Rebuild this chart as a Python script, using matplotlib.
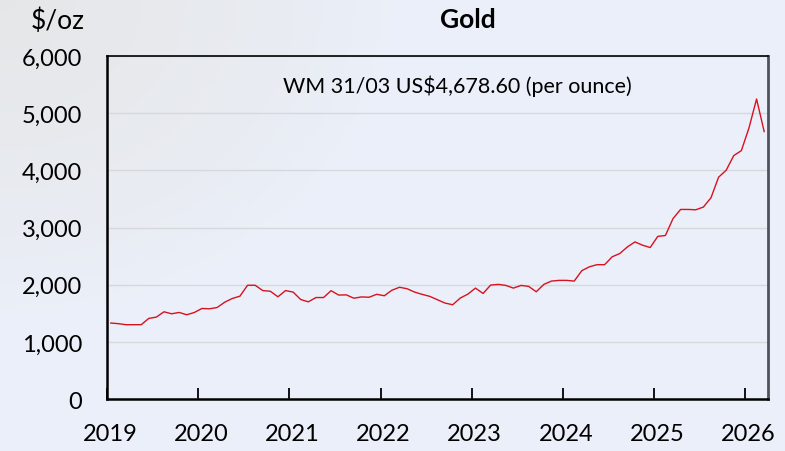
"""Gold price, month-end, US$ per ounce."""

import matplotlib
matplotlib.use("Agg")
import matplotlib.pyplot as plt
import matplotlib.transforms as mtransforms
import numpy as np
from matplotlib.ticker import FuncFormatter

FONT = ["Lato", "DejaVu Sans"]
plt.rcParams["font.family"] = FONT

YEARS = [2019, 2020, 2021, 2022, 2023, 2024, 2025, 2026]

# month-end prices, Jan 2019 .. Mar 2026
PRICE_2019 = [1329, 1318, 1300, 1300, 1300, 1410, 1433, 1526, 1491, 1514, 1474, 1514]
PRICE_2020 = [1584, 1578, 1601, 1694, 1759, 1799, 1990, 1990, 1897, 1885, 1788, 1897]
PRICE_2021 = [1870, 1740, 1700, 1775, 1775, 1895, 1818, 1822, 1763, 1786, 1780, 1832]
PRICE_2022 = [1806, 1903, 1955, 1929, 1870, 1830, 1795, 1736, 1678, 1649, 1766, 1835]
PRICE_2023 = [1940, 1847, 1993, 2005, 1987, 1940, 1987, 1970, 1876, 2005, 2063, 2075]
PRICE_2024 = [2075, 2063, 2245, 2313, 2350, 2350, 2488, 2545, 2661, 2748, 2690, 2650]
PRICE_2025 = [2845, 2860, 3155, 3316, 3316, 3310, 3358, 3520, 3880, 4002, 4258, 4345]
PRICE_2026 = [4741, 5248, 4678.6]

Y_TICKS = [0, 1000, 2000, 3000, 4000, 5000, 6000]
NOTE = "WM 31/03 US$4,678.60 (per ounce)"

prices = (PRICE_2019 + PRICE_2020 + PRICE_2021 + PRICE_2022
          + PRICE_2023 + PRICE_2024 + PRICE_2025 + PRICE_2026)
# each month sits in the middle of its slot
t = YEARS[0] + (np.arange(len(prices)) + 0.5) / 12

fig = plt.figure(figsize=(7.85, 4.52), dpi=100)

# pale backdrop: grey upper-left fading into light blue
bg = fig.add_axes([0, 0, 1, 1], zorder=-10)
gx, gy = np.meshgrid(np.linspace(0, 1, 200), np.linspace(0, 1, 120))
w = np.clip(1 - np.hypot(gx / 0.5, gy / 0.7), 0, 1)[..., None] ** 0.7
grey = np.array([0.900, 0.905, 0.910])
blue = np.array([0.922, 0.940, 0.978])
bg.imshow(w * grey + (1 - w) * blue, aspect="auto", extent=[0, 1, 1, 0])
bg.set_axis_off()

ax = fig.add_axes([0.1363, 0.115, 0.9783 - 0.1363, 0.8739 - 0.115])
ax.patch.set_alpha(0)

ax.plot(t, prices, color="#D7121E", lw=1.0, zorder=3)

ax.set_xlim(2019, 2026.25)
ax.set_ylim(0, 6000)
ax.set_yticks(Y_TICKS)
ax.yaxis.set_major_formatter(FuncFormatter(lambda v, _: f"{v:,.0f}"))
ax.tick_params(axis="y", length=0, pad=18, labelsize=17)
ax.set_xticks(YEARS)
ax.tick_params(axis="x", direction="in", length=8, width=1.3, pad=17, labelsize=17)
# year labels sit a few pixels right of their ticks in the original
shift = mtransforms.ScaledTranslation(3 / 100, 0, fig.dpi_scale_trans)
for lbl in ax.get_xticklabels():
    lbl.set_transform(lbl.get_transform() + shift)
ax.grid(axis="y", color="#D6D8DC", lw=1.0)
ax.set_axisbelow(True)

for side in ("left", "bottom"):
    ax.spines[side].set_linewidth(1.8)
    ax.spines[side].set_color("black")
ax.spines["top"].set_linewidth(1.2)
ax.spines["top"].set_color("black")
ax.spines["right"].set_linewidth(2.0)
ax.spines["right"].set_color("#4F5258")

fig.text(468 / 785, 1 - 20 / 452, "Gold", ha="center", va="center",
         fontsize=19, fontweight="bold")
fig.text(58 / 785, 1 - 21 / 452, "$/oz", ha="center", va="center", fontsize=19)
fig.text(457 / 785, 1 - 86 / 452, NOTE, ha="center", va="center", fontsize=15.5)

fig.savefig("out.png", dpi=100)
